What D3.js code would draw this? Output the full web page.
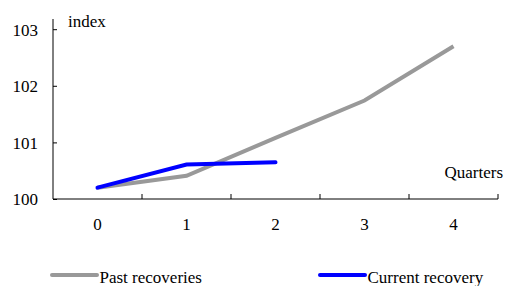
<!DOCTYPE html>
<html>
<head>
<meta charset="utf-8">
<script src="https://cdn.jsdelivr.net/npm/d3@7"></script>
<style>
  body { margin: 0; background: #fff; }
  svg { display: block; font-family: "Liberation Serif", "Times New Roman", serif; }
</style>
</head>
<body>
<div id="chart"></div>
<script>
const quarters = [ "0", "1", "2", "3", "4" ];
const pastRecoveries = [ 100.2, 100.41, 101.08, 101.74, 102.7 ];
const currentRecovery = [ 100.2, 100.61, 100.65 ];
const yTicks = [ 100, 101, 102, 103 ];

const width = 505, height = 286;
const fontSize = 17;

const svg = d3.select( "#chart" )
  .append( "svg" )
  .attr( "width", width )
  .attr( "height", height );

const x = d3.scaleBand()
  .domain( quarters )
  .range( [ 53, 498 ] );

const y = d3.scaleLinear()
  .domain( [ 100, 103.18 ] )
  .range( [ 199, 19 ] );

// y axis, ticks pointing inward
const yAxis = svg.append( "g" )
  .attr( "transform", "translate(53,0)" )
  .call( d3.axisRight( y ).tickValues( yTicks ).tickSize( 4 ).tickFormat( d3.format( "d" ) ) );
yAxis.select( ".domain" ).attr( "d", `M0,${y( 100 )}V${y.range()[ 1 ]}` );
yAxis.selectAll( ".tick text" )
  .attr( "x", -15 )
  .attr( "text-anchor", "end" )
  .attr( "dy", "0.35em" );

// x axis with ticks at band edges
const xAxis = svg.append( "g" )
  .attr( "transform", `translate(0,${y( 100 )})` );
xAxis.append( "path" )
  .attr( "class", "domain" )
  .attr( "d", `M${x.range()[ 0 ]},0H${x.range()[ 1 ]}` );
xAxis.selectAll( "line.edge" )
  .data( quarters )
  .enter()
  .append( "line" )
  .attr( "class", "edge" )
  .attr( "x1", d => x( d ) + x.bandwidth() )
  .attr( "x2", d => x( d ) + x.bandwidth() )
  .attr( "y1", 0 )
  .attr( "y2", -5 );
xAxis.selectAll( "text" )
  .data( quarters )
  .enter()
  .append( "text" )
  .attr( "x", d => x( d ) + x.bandwidth() / 2 )
  .attr( "y", 31 )
  .attr( "text-anchor", "middle" )
  .text( d => d );

svg.selectAll( ".domain, line.edge, .tick line" )
  .attr( "stroke", "#000" )
  .attr( "stroke-width", 1 );
svg.selectAll( "text" )
  .attr( "font-size", fontSize )
  .attr( "font-family", "Liberation Serif" )
  .attr( "fill", "#000" );

const line = d3.line()
  .x( ( d, i ) => x( quarters[ i ] ) + x.bandwidth() / 2 )
  .y( d => y( d ) );

svg.append( "path" )
  .datum( pastRecoveries )
  .attr( "d", line )
  .attr( "fill", "none" )
  .attr( "stroke", "#999999" )
  .attr( "stroke-width", 4 );

svg.append( "path" )
  .datum( currentRecovery )
  .attr( "d", line )
  .attr( "fill", "none" )
  .attr( "stroke", "#0000ff" )
  .attr( "stroke-width", 4 )
  .attr( "stroke-linecap", "round" );

svg.append( "text" )
  .attr( "x", 68 )
  .attr( "y", 27 )
  .attr( "font-size", fontSize )
  .text( "index" );

svg.append( "text" )
  .attr( "x", 503 )
  .attr( "y", 178 )
  .attr( "text-anchor", "end" )
  .attr( "font-size", fontSize )
  .text( "Quarters" );

// legend
const legend = [
  { name: "Past recoveries", color: "#999999", x: 52 },
  { name: "Current recovery", color: "#0000ff", x: 320 }
];
const lg = svg.selectAll( "g.legend" )
  .data( legend )
  .enter()
  .append( "g" )
  .attr( "class", "legend" )
  .attr( "transform", d => `translate(${d.x},275)` );
lg.append( "line" )
  .attr( "x1", 0 )
  .attr( "x2", 45 )
  .attr( "stroke", d => d.color )
  .attr( "stroke-width", 4 )
  .attr( "stroke-linecap", "round" );
lg.append( "text" )
  .attr( "x", 47.5 )
  .attr( "y", 8 )
  .attr( "font-size", fontSize )
  .attr( "font-family", "Liberation Serif" )
  .text( d => d.name );
</script>
</body>
</html>
